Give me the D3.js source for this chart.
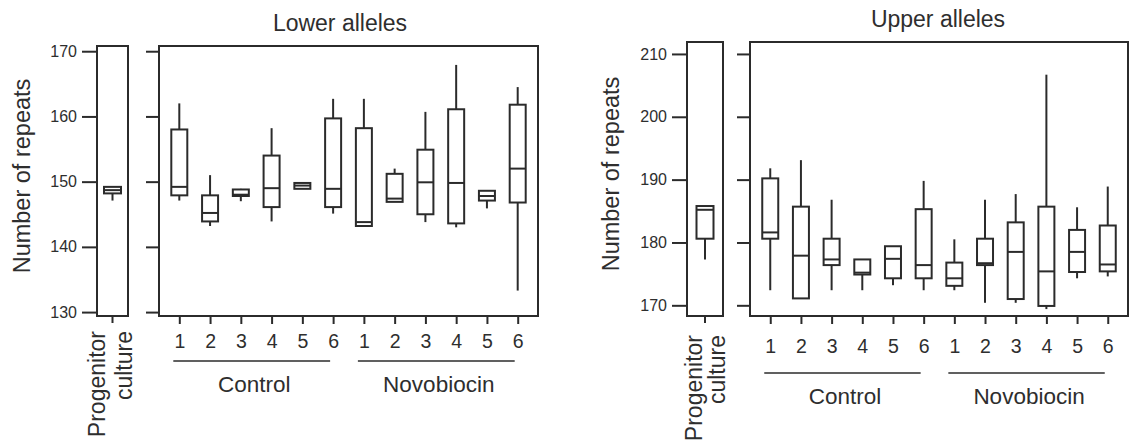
<!DOCTYPE html>
<html>
<head>
<meta charset="utf-8">
<script src="https://cdn.jsdelivr.net/npm/d3@7"></script>
<style>
  html, body { margin: 0; padding: 0; background: #fff; }
  svg { display: block; }
  text { font-family: "Liberation Sans", Arial, Helvetica, sans-serif; fill: #2e2e2e; }
</style>
</head>
<body>
<svg id="chart" width="1133" height="443"></svg>
<script>
// Treatment groups and culture numbers along the x axis
const groups = ["Control", "Novobiocin"];
const cultures = ["1", "2", "3", "4", "5", "6"];

// Lower alleles: box-plot statistics per culture (Control 1-6, then Novobiocin 1-6)
const lowerMin    = [147.1, 143.2, 147.0, 143.9, 148.9, 145.1, 143.1, 146.9, 143.8, 143.0, 145.9, 133.3];
const lowerQ1     = [147.9, 143.9, 147.8, 146.1, 148.9, 146.1, 143.2, 146.9, 145.0, 143.6, 147.1, 146.8];
const lowerMedian = [149.2, 145.2, 148.0, 149.0, 149.4, 148.9, 143.8, 147.4, 149.9, 149.8, 147.8, 152.0];
const lowerQ3     = [158.0, 147.9, 148.8, 154.0, 149.8, 159.7, 158.2, 151.2, 154.9, 161.1, 148.6, 161.8];
const lowerMax    = [162.0, 151.0, 148.9, 158.2, 149.8, 162.7, 162.7, 152.0, 160.7, 167.9, 148.6, 164.5];
// Lower alleles, progenitor culture: [min, q1, median, q3, max]
const lowerProgenitor = [147.1, 148.2, 148.7, 149.2, 149.2];
const lowerTicks = [130, 140, 150, 160, 170];

// Upper alleles
const upperMin    = [172.4, 171.1, 172.4, 172.4, 173.2, 172.4, 172.4, 170.4, 170.4, 169.4, 174.3, 174.6];
const upperQ1     = [180.6, 171.1, 176.4, 174.9, 174.3, 174.3, 173.1, 176.4, 171.0, 169.9, 175.3, 175.4];
const upperMedian = [181.6, 177.9, 177.3, 175.2, 177.4, 176.4, 174.3, 176.7, 178.5, 175.4, 178.5, 176.5];
const upperQ3     = [190.2, 185.7, 180.6, 177.3, 179.4, 185.3, 176.8, 180.6, 183.2, 185.7, 182.0, 182.7];
const upperMax    = [191.8, 193.1, 186.8, 177.3, 179.4, 189.8, 180.5, 186.8, 187.7, 206.7, 185.6, 188.9];
const upperProgenitor = [177.3, 180.6, 185.2, 185.8, 185.8];
const upperTicks = [170, 180, 190, 200, 210];

const INK = "#2b2b2b";
const svg = d3.select("#chart");

const keys = groups.flatMap(g => cultures.map(c => g + "-" + c));

function buildStats(mins, q1s, meds, q3s, maxs) {
  return keys.map((k, i) => ({ key: k, min: mins[i], q1: q1s[i], med: meds[i], q3: q3s[i], max: maxs[i] }));
}

function drawBox(g, cx, y, s, w) {
  // whiskers (no caps)
  g.append("line").attr("x1", cx).attr("x2", cx).attr("y1", y(s.q3)).attr("y2", y(s.max))
    .attr("stroke", INK).attr("stroke-width", 2);
  g.append("line").attr("x1", cx).attr("x2", cx).attr("y1", y(s.q1)).attr("y2", y(s.min))
    .attr("stroke", INK).attr("stroke-width", 2);
  g.append("rect").attr("x", cx - w / 2).attr("width", w)
    .attr("y", y(s.q3)).attr("height", Math.max(2, y(s.q1) - y(s.q3)))
    .attr("fill", "#fff").attr("stroke", INK).attr("stroke-width", 2);
  g.append("line").attr("x1", cx - w / 2).attr("x2", cx + w / 2)
    .attr("y1", y(s.med)).attr("y2", y(s.med))
    .attr("stroke", INK).attr("stroke-width", 2);
}

function drawPanel(cfg) {
  const g = svg.append("g");
  const y = d3.scaleLinear().domain(cfg.domain).range([cfg.bottom, cfg.top]);

  // title
  g.append("text").attr("x", cfg.titleX).attr("y", cfg.titleY)
    .attr("text-anchor", "middle").attr("font-size", 23).text(cfg.title);

  // y axis title
  g.append("text")
    .attr("transform", `translate(${cfg.yTitleX},${(cfg.top + cfg.bottom) / 2 - 5}) rotate(-90)`)
    .attr("text-anchor", "middle").attr("font-size", 23.5).text("Number of repeats");

  // progenitor frame with labelled axis
  const px0 = cfg.progLeft, px1 = cfg.progRight, pcx = (px0 + px1) / 2;
  const yAxis = d3.axisLeft(y).tickValues(cfg.ticks).tickSize(15).tickPadding(5);
  const ya = g.append("g").attr("transform", `translate(${px0},0)`).call(yAxis);
  ya.select(".domain").remove();
  ya.selectAll("line").attr("stroke", INK).attr("stroke-width", 2);
  ya.selectAll("text").attr("font-size", 16).style("fill", "#2e2e2e")
    .attr("font-family", "'Liberation Sans', Arial, sans-serif");

  g.append("rect").attr("x", px0).attr("y", cfg.top).attr("width", px1 - px0).attr("height", cfg.bottom - cfg.top)
    .attr("fill", "none").attr("stroke", INK).attr("stroke-width", 2);
  g.append("line").attr("x1", pcx).attr("x2", pcx).attr("y1", cfg.bottom).attr("y2", cfg.bottom + 7)
    .attr("stroke", INK).attr("stroke-width", 2);

  const ps = { min: cfg.prog[0], q1: cfg.prog[1], med: cfg.prog[2], q3: cfg.prog[3], max: cfg.prog[4] };
  drawBox(g, pcx, y, ps, 17);

  g.append("text")
    .attr("transform", `translate(${cfg.progLabelX[0]},${cfg.progLabelY}) rotate(-90)`)
    .attr("text-anchor", "end").attr("font-size", 23).text("Progenitor");
  g.append("text")
    .attr("transform", `translate(${cfg.progLabelX[1]},${cfg.progLabelY}) rotate(-90)`)
    .attr("text-anchor", "end").attr("font-size", 23).text("culture");

  // main frame
  const mx0 = cfg.mainLeft, mx1 = cfg.mainRight;
  const x = d3.scalePoint().domain(keys).range([mx0, mx1]).padding(0.66);

  const yAxis2 = d3.axisLeft(y).tickValues(cfg.ticks).tickSize(13).tickFormat("");
  const ya2 = g.append("g").attr("transform", `translate(${mx0},0)`).call(yAxis2);
  ya2.select(".domain").remove();
  ya2.selectAll("line").attr("stroke", INK).attr("stroke-width", 2);

  g.append("rect").attr("x", mx0).attr("y", cfg.top).attr("width", mx1 - mx0).attr("height", cfg.bottom - cfg.top)
    .attr("fill", "none").attr("stroke", INK).attr("stroke-width", 2);

  const xAxis = d3.axisBottom(x).tickSize(7).tickPadding(cfg.xPad).tickFormat(d => d.split("-")[1]);
  const xa = g.append("g").attr("transform", `translate(0,${cfg.bottom + 1})`).call(xAxis);
  xa.select(".domain").remove();
  xa.selectAll("line").attr("stroke", INK).attr("stroke-width", 2);
  xa.selectAll("text").attr("font-size", 19.5).style("fill", "#2e2e2e")
    .attr("font-family", "'Liberation Sans', Arial, sans-serif");

  cfg.stats.forEach(s => drawBox(g, x(s.key), y, s, 16));

  // group brackets
  groups.forEach(grp => {
    const first = x(grp + "-" + cultures[0]);
    const last = x(grp + "-" + cultures[cultures.length - 1]);
    g.append("line").attr("x1", first - 6).attr("x2", last - 3)
      .attr("y1", cfg.groupLineY).attr("y2", cfg.groupLineY)
      .attr("stroke", INK).attr("stroke-width", 1.6);
    g.append("text").attr("x", (first + last) / 2 - 2).attr("y", cfg.groupLabelY)
      .attr("text-anchor", "middle").attr("font-size", 22.5).text(grp);
  });
}

drawPanel({
  title: "Lower alleles", titleX: 340, titleY: 31,
  domain: [129.4, 170.8], top: 46, bottom: 316, ticks: lowerTicks,
  yTitleX: 30,
  progLeft: 97, progRight: 128, prog: lowerProgenitor,
  progLabelX: [105, 132], progLabelY: 331,
  mainLeft: 159, mainRight: 538,
  stats: buildStats(lowerMin, lowerQ1, lowerMedian, lowerQ3, lowerMax),
  xPad: 10, groupLineY: 361, groupLabelY: 392
});

drawPanel({
  title: "Upper alleles", titleX: 938, titleY: 27,
  domain: [168.3, 211.9], top: 42, bottom: 316, ticks: upperTicks,
  yTitleX: 619,
  progLeft: 687, progRight: 723, prog: upperProgenitor,
  progLabelX: [702, 725], progLabelY: 335,
  mainLeft: 750, mainRight: 1128,
  stats: buildStats(upperMin, upperQ1, upperMedian, upperQ3, upperMax),
  xPad: 15, groupLineY: 373, groupLabelY: 404
});
</script>
</body>
</html>
